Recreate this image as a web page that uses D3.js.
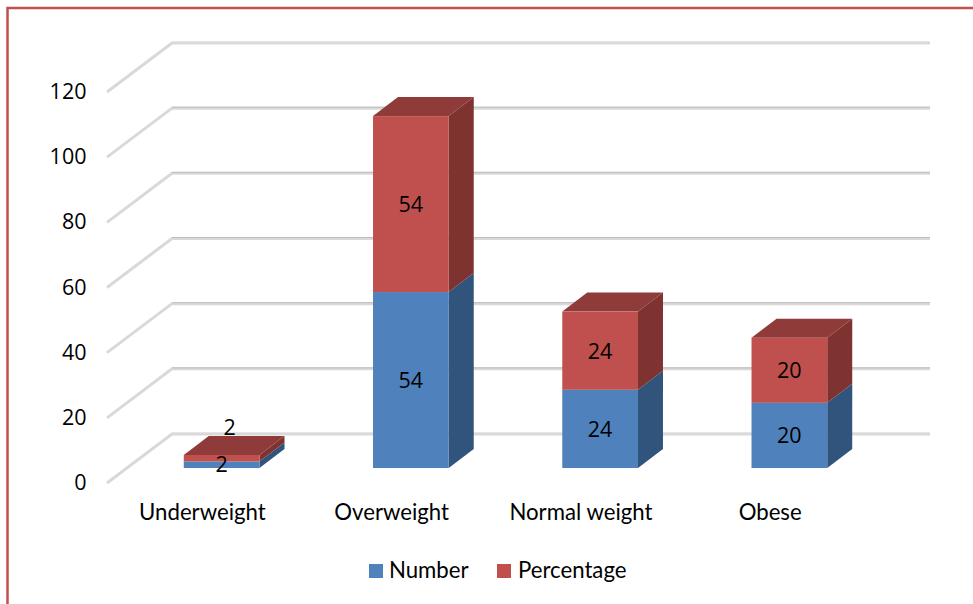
<!DOCTYPE html>
<html>
<head>
<meta charset="utf-8">
<script src="https://cdn.jsdelivr.net/npm/d3@7"></script>
<style>
html,body{margin:0;padding:0;background:#fff}
svg{display:block}
text{font-family:Lato,"Open Sans",sans-serif;fill:#000}
text.num{font-family:"Open Sans",Lato,sans-serif}
</style>
</head>
<body>
<svg id="chart" width="973" height="604"></svg>
<script>
const categories = ["Underweight", "Overweight", "Normal weight", "Obese"];
const numberValues = [2, 54, 24, 20];
const percentageValues = [2, 54, 24, 20];
const seriesNames = ["Number", "Percentage"];
const tickValues = [0, 20, 40, 60, 80, 100, 120];

const frontFill = ["#4f81bd", "#c0504d"];
const sideFill = ["#31547c", "#7f3331"];
const topFill = ["#3f6797", "#8e3b39"];

const svg = d3.select("#chart");
const labelSize = 22.2;
const numberSize = 21.5;

// Oblique projection: the floor runs back by wallDx / wallDy, bars sit partway in.
const wallDx = 65, wallDy = -49;
const barInX = 20, barInY = -15;
const barDx = 25, barDy = -19;

const x = d3.scaleBand().domain(categories).range([107, 864]).paddingInner(0.6).paddingOuter(0.3);
const y = d3.scaleLinear().domain([0, 120]).range([483, 92]);

// Chart frame, drawn on the top and left edges only
svg.append("path")
  .attr("d", d3.line()([[973, 8], [7.5, 8], [7.5, 604]]))
  .attr("fill", "none").attr("stroke", "#c0504d").attr("stroke-width", 2.5);

// Gridlines: a diagonal on the side wall and a horizontal on the back wall
const grid = svg.append("g");
tickValues.forEach(t => {
  const y0 = y(t);
  grid.append("path")
    .attr("d", d3.line()([[107, y0], [107 + wallDx, y0 + wallDy], [930, y0 + wallDy]]))
    .attr("fill", "none").attr("stroke", "#d9d9d9").attr("stroke-width", 3);
  grid.append("path")
    .attr("d", d3.line()([[107 + wallDx, y0 + wallDy - 1], [930, y0 + wallDy - 1]]))
    .attr("fill", "none").attr("stroke", t === 120 || t === 0 ? "#dedede" : "#bdbdbd").attr("stroke-width", 1);
});

// Value axis labels
svg.append("g").selectAll("text").data(tickValues).join("text")
  .attr("class", "num")
  .attr("x", 86.5).attr("y", d => y(d) + 7)
  .attr("text-anchor", "end").attr("font-size", numberSize)
  .text(d => d);

// Category labels
svg.append("g").selectAll("text").data(categories).join("text")
  .attr("x", d => x(d) + x.bandwidth() / 2 + 0.8)
  .attr("y", 520)
  .attr("text-anchor", "middle").attr("font-size", labelSize)
  .text(d => d);

// Stacked 3D bars, lower series first so the upper one overlaps it
const series = [numberValues, percentageValues];
const barUnit = d3.scaleLinear().domain([0, 120]).range([y(0) + barInY, y(120) + barInY]);
const poly = d3.line();

categories.forEach((c, i) => {
  const left = x(c) + barInX;
  const right = left + x.bandwidth();
  let base = 0;
  series.forEach((vals, s) => {
    const yb = barUnit(base), yt = barUnit(base + vals[i]);
    const g = svg.append("g");
    g.append("path").attr("fill", sideFill[s])
      .attr("d", poly([[right, yb], [right + barDx, yb + barDy], [right + barDx, yt + barDy], [right, yt]]) + "Z");
    if (s === series.length - 1) {
      g.append("path").attr("fill", topFill[s])
        .attr("d", poly([[left, yt], [left + barDx, yt + barDy], [right + barDx, yt + barDy], [right, yt]]) + "Z");
    }
    g.append("rect").attr("x", left).attr("y", yt)
      .attr("width", x.bandwidth()).attr("height", yb - yt).attr("fill", frontFill[s]);
    base += vals[i];
  });
});

// Data labels sit on top of every bar; the thin stack lifts its labels clear of each other
categories.forEach((c, i) => {
  const cx = x(c) + barInX + x.bandwidth() / 2;
  let base = 0;
  series.forEach((vals, s) => {
    const yMid = barUnit(base + vals[i] / 2);
    const small = vals[i] < 5;
    svg.append("text")
      .attr("class", "num")
      .attr("x", small && s === 1 ? cx + 8 : cx)
      .attr("y", small ? (s === 0 ? 472 : 435) : yMid + 8)
      .attr("text-anchor", "middle").attr("font-size", numberSize)
      .text(vals[i]);
    base += vals[i];
  });
});

// Legend
const legendItems = [[369, 389], [497, 518]];
const legend = svg.append("g");
seriesNames.forEach((name, s) => {
  legend.append("rect").attr("x", legendItems[s][0]).attr("y", 564)
    .attr("width", 14).attr("height", 14).attr("fill", frontFill[s]);
  legend.append("text").attr("x", legendItems[s][1]).attr("y", 577.5)
    .attr("font-size", labelSize).text(name);
});
</script>
</body>
</html>
